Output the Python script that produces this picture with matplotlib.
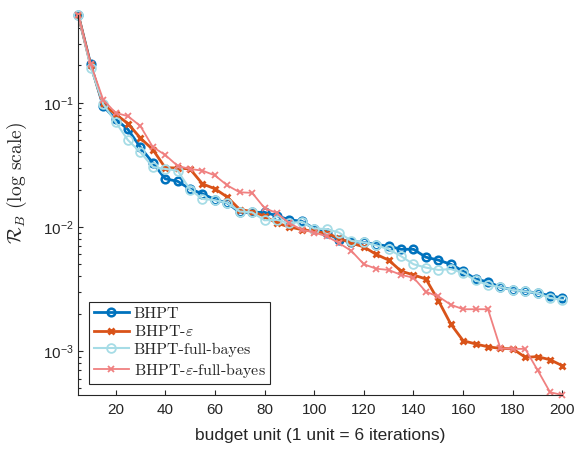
import matplotlib
matplotlib.use("Agg")
import matplotlib.pyplot as plt
from matplotlib.ticker import LogLocator, NullFormatter

# budget units (x)
budget = [5, 10, 15, 20, 25, 30, 35, 40, 45, 50,
          55, 60, 65, 70, 75, 80, 85, 90, 95, 100,
          105, 110, 115, 120, 125, 130, 135, 140, 145, 150,
          155, 160, 165, 170, 175, 180, 185, 190, 195, 200]

# R_B values
bhpt = [0.51, 0.204, 0.094, 0.074, 0.061, 0.0438, 0.0328, 0.0244, 0.0233, 0.0202,
        0.0185, 0.0166, 0.0156, 0.0131, 0.0131, 0.0131, 0.0123, 0.0114, 0.0111, 0.0097,
        0.0089, 0.0079, 0.0076, 0.0075, 0.0072, 0.0070, 0.0066, 0.0066, 0.0057, 0.0054,
        0.0050, 0.0044, 0.0038, 0.0036, 0.00327, 0.00311, 0.00302, 0.00293, 0.00279, 0.00267]

bhpt_eps = [0.51, 0.20, 0.097, 0.081, 0.068, 0.052, 0.042, 0.030, 0.0298, 0.0293,
            0.0222, 0.0203, 0.0174, 0.0138, 0.0133, 0.0122, 0.0107, 0.0100, 0.0095, 0.0092,
            0.0089, 0.0081, 0.0074, 0.0069, 0.0060, 0.0054, 0.0044, 0.0041, 0.0038, 0.00255,
            0.00165, 0.00121, 0.00114, 0.00108, 0.00105, 0.00104, 0.00089, 0.00090, 0.00085, 0.00076]

bhpt_fb = [0.51, 0.192, 0.098, 0.070, 0.050, 0.040, 0.0304, 0.0293, 0.0284, 0.0200,
           0.0168, 0.0164, 0.0156, 0.0133, 0.0131, 0.0113, 0.0114, 0.0107, 0.0110, 0.0097,
           0.0096, 0.0090, 0.0077, 0.0075, 0.0071, 0.0066, 0.0058, 0.0050, 0.0047, 0.0045,
           0.00457, 0.00425, 0.0037, 0.0034, 0.00327, 0.0031, 0.00302, 0.00293, 0.00267, 0.00258]

bhpt_eps_fb = [0.51, 0.205, 0.106, 0.083, 0.078, 0.065, 0.044, 0.038, 0.031, 0.0293,
               0.0284, 0.026, 0.0216, 0.019, 0.0188, 0.0142, 0.0129, 0.0107, 0.0095, 0.0090,
               0.0084, 0.0074, 0.0064, 0.0050, 0.0046, 0.0045, 0.0041, 0.0039, 0.0030, 0.00275,
               0.00236, 0.00217, 0.00217, 0.00217, 0.00105, 0.00104, 0.00104, 0.00070, 0.000465, 0.000442]

labels = ["BHPT", r"BHPT-$\varepsilon$", "BHPT-full-bayes", r"BHPT-$\varepsilon$-full-bayes"]

plt.rcParams["font.family"] = ["Liberation Sans", "DejaVu Sans"]
plt.rcParams["mathtext.fontset"] = "custom"
plt.rcParams["mathtext.rm"] = "Liberation Sans"
plt.rcParams["mathtext.it"] = "Liberation Sans:italic"
plt.rcParams["mathtext.bf"] = "Liberation Sans:bold"

axcol = "#262626"

fig = plt.figure(figsize=(5.83, 4.55), dpi=100)
ax = fig.add_axes([0.1343, 0.1319, 0.8305, 0.8352])

ax.plot(budget, bhpt, "-o", color="#0072BD", lw=2, ms=5.5, mew=1.8,
        mfc="none", label=labels[0], clip_on=False)
ax.plot(budget, bhpt_eps, "-x", color="#D95319", lw=2, ms=5, mew=2,
        label=labels[1], clip_on=False)
ax.plot(budget, bhpt_fb, "-o", color="#A6DCE6", lw=1.5, ms=6.3, mew=1.3,
        mfc="none", label=labels[2], clip_on=False)
ax.plot(budget, bhpt_eps_fb, "-x", color="#F08080", lw=1.3, ms=5, mew=1.3,
        label=labels[3], clip_on=False)

ax.set_yscale("log")
ax.set_xlim(5, 200)
ax.set_ylim(min(bhpt_eps_fb), max(bhpt))
ax.set_xticks(range(20, 201, 20))
ax.yaxis.set_major_locator(LogLocator(base=10))
ax.yaxis.set_minor_locator(LogLocator(base=10, subs=range(2, 10)))
ax.yaxis.set_minor_formatter(NullFormatter())

for s in ["top", "right"]:
    ax.spines[s].set_visible(False)
for s in ["left", "bottom"]:
    ax.spines[s].set_color(axcol)
    ax.spines[s].set_linewidth(0.8)

ax.tick_params(which="both", direction="in", colors=axcol, labelsize=11, width=0.8)
ax.tick_params(axis="x", pad=6)
ax.tick_params(which="major", length=3.5)
ax.tick_params(which="minor", length=2.5)

ax.set_xlabel("budget unit (1 unit = 6 iterations)", fontsize=12.5, color=axcol, labelpad=8)
ylab = ax.set_ylabel(r"$\mathcal{R}_B$ (log scale)", fontsize=14, color=axcol, family="cmr10")
ylab.set_math_fontfamily("cm")
ax.yaxis.set_label_coords(-0.102, 0.558)

leg = ax.legend(loc="lower left", bbox_to_anchor=(0.022, 0.028), fancybox=False,
                edgecolor=axcol, framealpha=1, prop={"family": "cmr10", "size": 11.5},
                handlelength=2.2, handletextpad=0.3, borderpad=0.3, labelspacing=0.22,
                borderaxespad=0)
leg.get_frame().set_linewidth(0.8)
for t in leg.get_texts():
    t.set_math_fontfamily("cm")
    t.set_color(axcol)

fig.savefig("out.png", dpi=100)
